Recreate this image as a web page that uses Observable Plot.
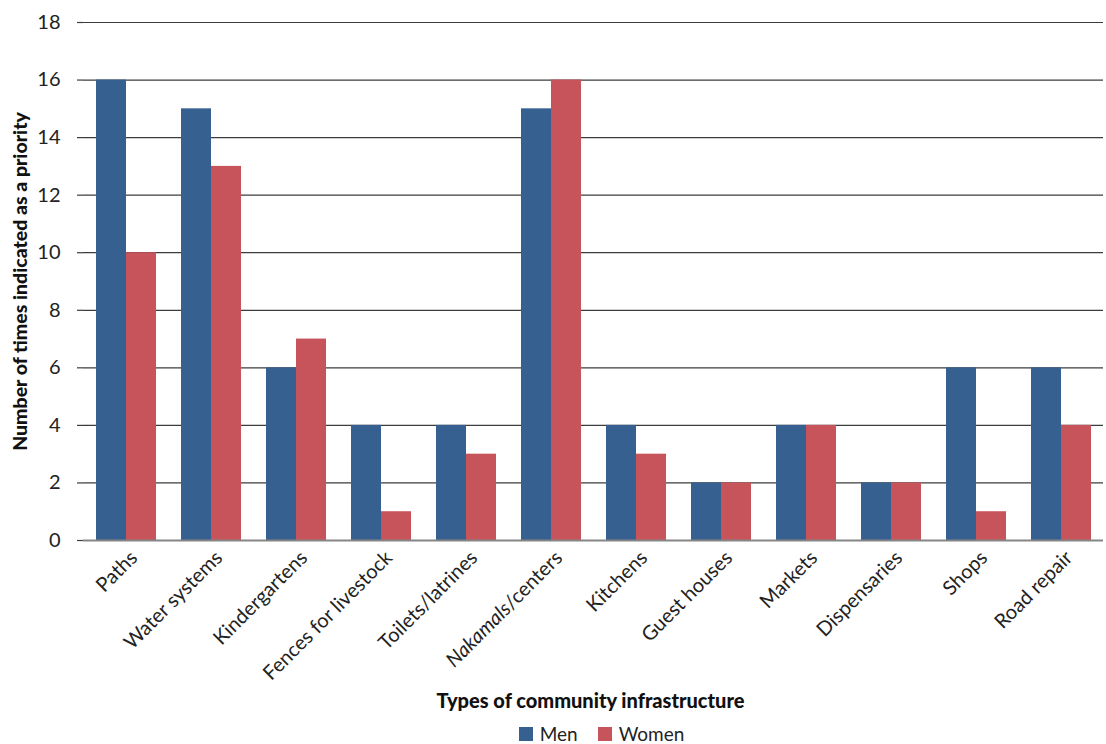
<!DOCTYPE html>
<html>
<head>
<meta charset="utf-8">
<script src="https://cdn.jsdelivr.net/npm/d3@7"></script>
<script src="https://cdn.jsdelivr.net/npm/@observablehq/plot@0.6"></script>
<style>
  html, body { margin: 0; padding: 0; background: #fff; }
  body { width: 1106px; height: 744px; overflow: hidden; font-family: Lato, "Noto Sans", sans-serif; color: #222; }
  #chart svg { display: block; overflow: visible; }
  #chart svg text { font-size: 20px; fill: #222; }
  #chart g[aria-label="y-axis label"] text { font-weight: 900; font-size: 19.5px; fill: #111; }
  .xtitle { padding-left: 75px; text-align: center; font-weight: 900; font-size: 20px; line-height: 24px; color: #111; height: 24px; }
  .legend { padding-left: 97px; display: flex; justify-content: center; gap: 20px; margin-top: 10px; font-size: 19px; line-height: 24px; color: #222; }
  .legend span.item { display: inline-flex; align-items: center; gap: 7px; }
  .legend span.sw { width: 14px; height: 14px; display: inline-block; }
</style>
</head>
<body>
<div id="chart"></div>
<div class="xtitle">Types of community infrastructure</div>
<div class="legend" id="legend"></div>
<script>
// Infrastructure priorities by gender
const categories = ["Paths", "Water systems", "Kindergartens", "Fences for livestock", "Toilets/latrines", "Nakamals/centers", "Kitchens", "Guest houses", "Markets", "Dispensaries", "Shops", "Road repair"];
const men   = [16, 15, 6, 4, 4, 15, 4, 2, 4, 2, 6, 6];
const women = [10, 13, 7, 1, 3, 16, 3, 2, 4, 2, 1, 4];
const seriesNames = ["Men", "Women"];
const seriesColors = ["#36608f", "#c8545b"];
const yTicks = [0, 2, 4, 6, 8, 10, 12, 14, 16, 18];
const yTitle = "Number of times indicated as a priority";
const gridColor = "#3c3c3c";

const rows = categories.flatMap((c, i) => [
  {category: c, series: "Men", value: men[i]},
  {category: c, series: "Women", value: women[i]}
]);

const chart = Plot.plot({
  width: 1106,
  height: 688,
  marginTop: 22,
  marginBottom: 148,
  marginLeft: 81,
  marginRight: 1,
  style: {fontFamily: "Lato, 'Noto Sans', sans-serif", fontSize: "20px", color: "#222", background: "#fff"},
  fx: {
    domain: categories,
    axis: "bottom",
    paddingInner: 0,
    paddingOuter: 0,
    label: null,
    tickRotate: -45,
    tickSize: 0,
    tickPadding: 12
  },
  x: {domain: seriesNames, paddingInner: 0, paddingOuter: 0.375, axis: null},
  y: {
    domain: [0, 18],
    ticks: yTicks,
    tickSize: 6,
    tickPadding: 17,
    label: yTitle,
    labelAnchor: "center",
    labelOffset: 70
  },
  color: {domain: seriesNames, range: seriesColors},
  marks: [
    Plot.ruleY(yTicks.filter(d => d > 0), {stroke: gridColor, strokeWidth: 1.2}),
    Plot.barY(rows, {fx: "category", x: "series", y: "value", fill: "series"}),
    Plot.ruleY([0], {stroke: "#858585", strokeWidth: 2.2})
  ]
});

document.getElementById("chart").appendChild(chart);

// Tick marks on the y axis continue the gridlines to the left edge of the plot
chart.querySelectorAll('g[aria-label="y-axis tick"]').forEach(g => {
  g.setAttribute("stroke", gridColor);
  g.setAttribute("stroke-width", "1.2");
  g.setAttribute("stroke-opacity", "1");
  g.querySelectorAll("path, line").forEach(p => {
    p.setAttribute("stroke", gridColor);
    p.setAttribute("stroke-width", "1.2");
  });
});

const ns = "http://www.w3.org/2000/svg";
const categorySet = new Set(categories);
chart.querySelectorAll("text").forEach(t => {
  const s = t.textContent;
  // Plain axis title without direction arrow
  if (s.startsWith(yTitle)) t.textContent = yTitle;
  // Nudge rotated category labels
  if (categorySet.has(s)) {
    t.setAttribute("transform", `translate(8,2) ${t.getAttribute("transform") || ""}`);
  }
  // Italicise the local word in the category label
  if (s === "Nakamals/centers") {
    t.textContent = "";
    const a = document.createElementNS(ns, "tspan");
    a.setAttribute("font-style", "italic");
    a.textContent = "Nakamals";
    const b = document.createElementNS(ns, "tspan");
    b.textContent = "/centers";
    t.appendChild(a);
    t.appendChild(b);
  }
});

// Legend
const legend = document.getElementById("legend");
seriesNames.forEach((name, i) => {
  const item = document.createElement("span");
  item.className = "item";
  const sw = document.createElement("span");
  sw.className = "sw";
  sw.style.background = seriesColors[i];
  const label = document.createElement("span");
  label.textContent = name;
  item.appendChild(sw);
  item.appendChild(label);
  legend.appendChild(item);
});
</script>
</body>
</html>
